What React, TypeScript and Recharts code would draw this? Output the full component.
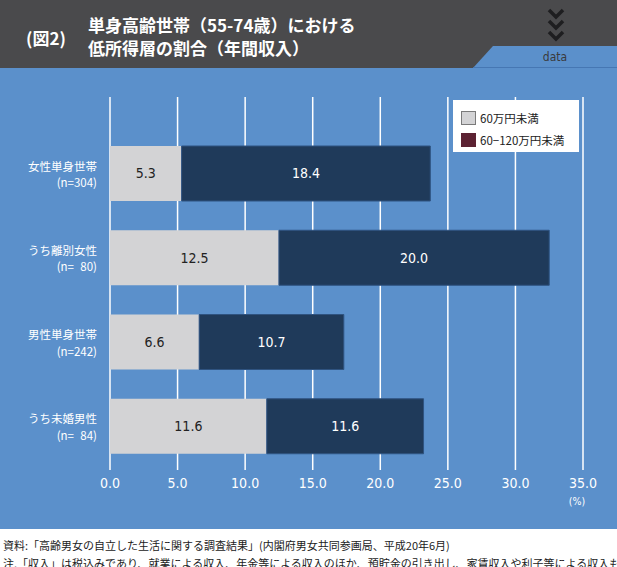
import React from "react"
import { Bar, BarChart, CartesianGrid, LabelList, Legend, XAxis, YAxis } from "recharts"

document.body.style.margin = "0"

const categories = ["女性単身世帯", "うち離別女性", "男性単身世帯", "うち未婚男性"]
const sampleSizes = ["(n=304)", "(n=\u200780)", "(n=242)", "(n=\u200784)"]
const under60 = [5.3, 12.5, 6.6, 11.6]
const from60to120 = [18.4, 20.0, 10.7, 11.6]
const xTicks = [0, 5, 10, 15, 20, 25, 30, 35]
const legendItems = [
  { label: "60万円未満", color: "#d3d3d5", border: "#7a7a7a" },
  { label: "60\u2212120万円未満", color: "#5c2233", border: "#5c2233" },
]

const data = categories.map((name, i) => ({
  name,
  n: sampleSizes[i],
  low: under60[i],
  mid: from60to120[i],
}))

const BLUE = "#5b90cb"
const DARK = "#4a4a4c"
const NAVY = "#1f3a5a"
const GRAY = "#d3d3d5"
const jp = "'Noto Sans CJK JP', 'Noto Sans', sans-serif"
const num = "'DejaVu Sans Condensed', 'DejaVu Sans', sans-serif"

function CategoryTick(props: any) {
  const { x, y, payload, index } = props
  return (
    <g>
      <text x={x} y={y - 7.5} textAnchor="end" dominantBaseline="central" fill="#fff" fontSize={11.5} fontFamily={jp}>
        {payload.value}
      </text>
      <text x={x} y={y + 9} textAnchor="end" dominantBaseline="central" fill="#fff" fontSize={11.5} fontFamily={jp}>
        {sampleSizes[index]}
      </text>
    </g>
  )
}

function LegendBox() {
  return (
    <div style={{ background: "#fff", width: 126, height: 52, boxSizing: "border-box", padding: "7px 0 0 8px", fontFamily: jp }}>
      {legendItems.map((item) => (
        <div key={item.label} style={{ display: "flex", alignItems: "center", height: 22, fontSize: 11.5, color: "#222" }}>
          <span
            style={{
              display: "inline-block",
              width: 13,
              height: 12,
              background: item.color,
              border: `1.5px solid ${item.border}`,
              marginRight: 4,
            }}
          />
          {item.label}
        </div>
      ))}
    </div>
  )
}

export default function App() {
  return (
    <div style={{ position: "relative", width: 617, height: 567, background: "#fff", overflow: "hidden" }}>
      <div style={{ position: "absolute", left: 0, top: 0, width: 617, height: 68, background: DARK }} />
      <svg style={{ position: "absolute", left: 0, top: 0 }} width={617} height={69}>
        <polygon points="473,68 493,46 617,46 617,68" fill={BLUE} />
        <line x1={473} y1={67.5} x2={617} y2={67.5} stroke="#4677b3" strokeWidth={1} />
        {[0, 1, 2].map((i) => (
          <polyline
            key={i}
            points={`549,${10 + i * 11} 556,${17 + i * 11} 563,${10 + i * 11}`}
            fill="none"
            stroke="#1e1e20"
            strokeWidth={3.5}
          />
        ))}
        <text x={555} y={57} textAnchor="middle" dominantBaseline="central" fill="#3a3a3c" fontSize={12} fontFamily={num}>
          data
        </text>
      </svg>
      <div style={{ position: "absolute", left: 26, top: 25, color: "#fff", fontSize: 17, fontWeight: 700, fontFamily: jp }}>
        (図2)
      </div>
      <div
        style={{
          position: "absolute",
          left: 88,
          top: 13,
          color: "#fff",
          fontSize: 17,
          fontWeight: 700,
          lineHeight: "23px",
          fontFamily: jp,
          whiteSpace: "nowrap",
        }}
      >
        <div>単身高齢世帯（55-74歳）における</div>
        <div>低所得層の割合（年間収入）</div>
      </div>
      <div style={{ position: "absolute", left: 0, top: 68, width: 617, height: 461, background: BLUE }} />
      <div style={{ position: "absolute", left: 0, top: 0 }}>
        <BarChart
          width={617}
          height={567}
          data={data}
          layout="vertical"
          margin={{ top: 97, right: 34, bottom: 67, left: 10 }}
        >
          <CartesianGrid horizontal={false} stroke="#fff" strokeWidth={1.5} />
          <XAxis
            type="number"
            domain={[0, 35]}
            ticks={xTicks}
            height={30}
            axisLine={false}
            tickLine={false}
            tick={{ fill: "#fff", fontSize: 14, fontFamily: num }}
            tickFormatter={(v: number) => v.toFixed(1)}
            label={{
              content: ({ viewBox }: any) => (
                <text
                  x={viewBox.x + viewBox.width - 6}
                  y={viewBox.y + 31}
                  textAnchor="middle"
                  dominantBaseline="central"
                  fill="#fff"
                  fontSize={10.5}
                  fontFamily={num}
                >
                  (%)
                </text>
              ),
            }}
          />
          <YAxis
            type="category"
            dataKey="name"
            width={100}
            axisLine={false}
            tickLine={false}
            tickSize={0}
            tickMargin={13}
            padding={{ top: 34, bottom: 2 }}
            tick={<CategoryTick />}
          />
          <Legend
            layout="horizontal"
            verticalAlign="middle"
            align="center"
            content={() => <LegendBox />}
            wrapperStyle={{ left: 453, top: 100, width: 126, height: 52 }}
          />
          <Bar dataKey="low" stackId="a" fill={GRAY} barSize={55} isAnimationActive={false}>
            <LabelList
              dataKey="low"
              position="center"
              fill="#222"
              fontSize={14}
              fontFamily={num}
              formatter={(v: any) => Number(v).toFixed(1)}
            />
          </Bar>
          <Bar dataKey="mid" stackId="a" fill={NAVY} stroke="#2f5380" strokeWidth={1} barSize={55} isAnimationActive={false}>
            <LabelList
              dataKey="mid"
              position="center"
              fill="#fff"
              stroke="none"
              fontSize={14}
              fontFamily={num}
              formatter={(v: any) => Number(v).toFixed(1)}
            />
          </Bar>
        </BarChart>
      </div>
      <div
        style={{
          position: "absolute",
          left: 3,
          top: 536,
          fontSize: 11,
          lineHeight: "18px",
          color: "#222",
          fontFamily: jp,
          whiteSpace: "nowrap",
        }}
      >
        <div>資料:「高齢男女の自立した生活に関する調査結果」(内閣府男女共同参画局、平成20年6月)</div>
        <div>注.「収入」は税込みであり、就業による収入、年金等による収入のほか、預貯金の引き出し、家賃収入や利子等による収入も含む</div>
      </div>
    </div>
  )
}
